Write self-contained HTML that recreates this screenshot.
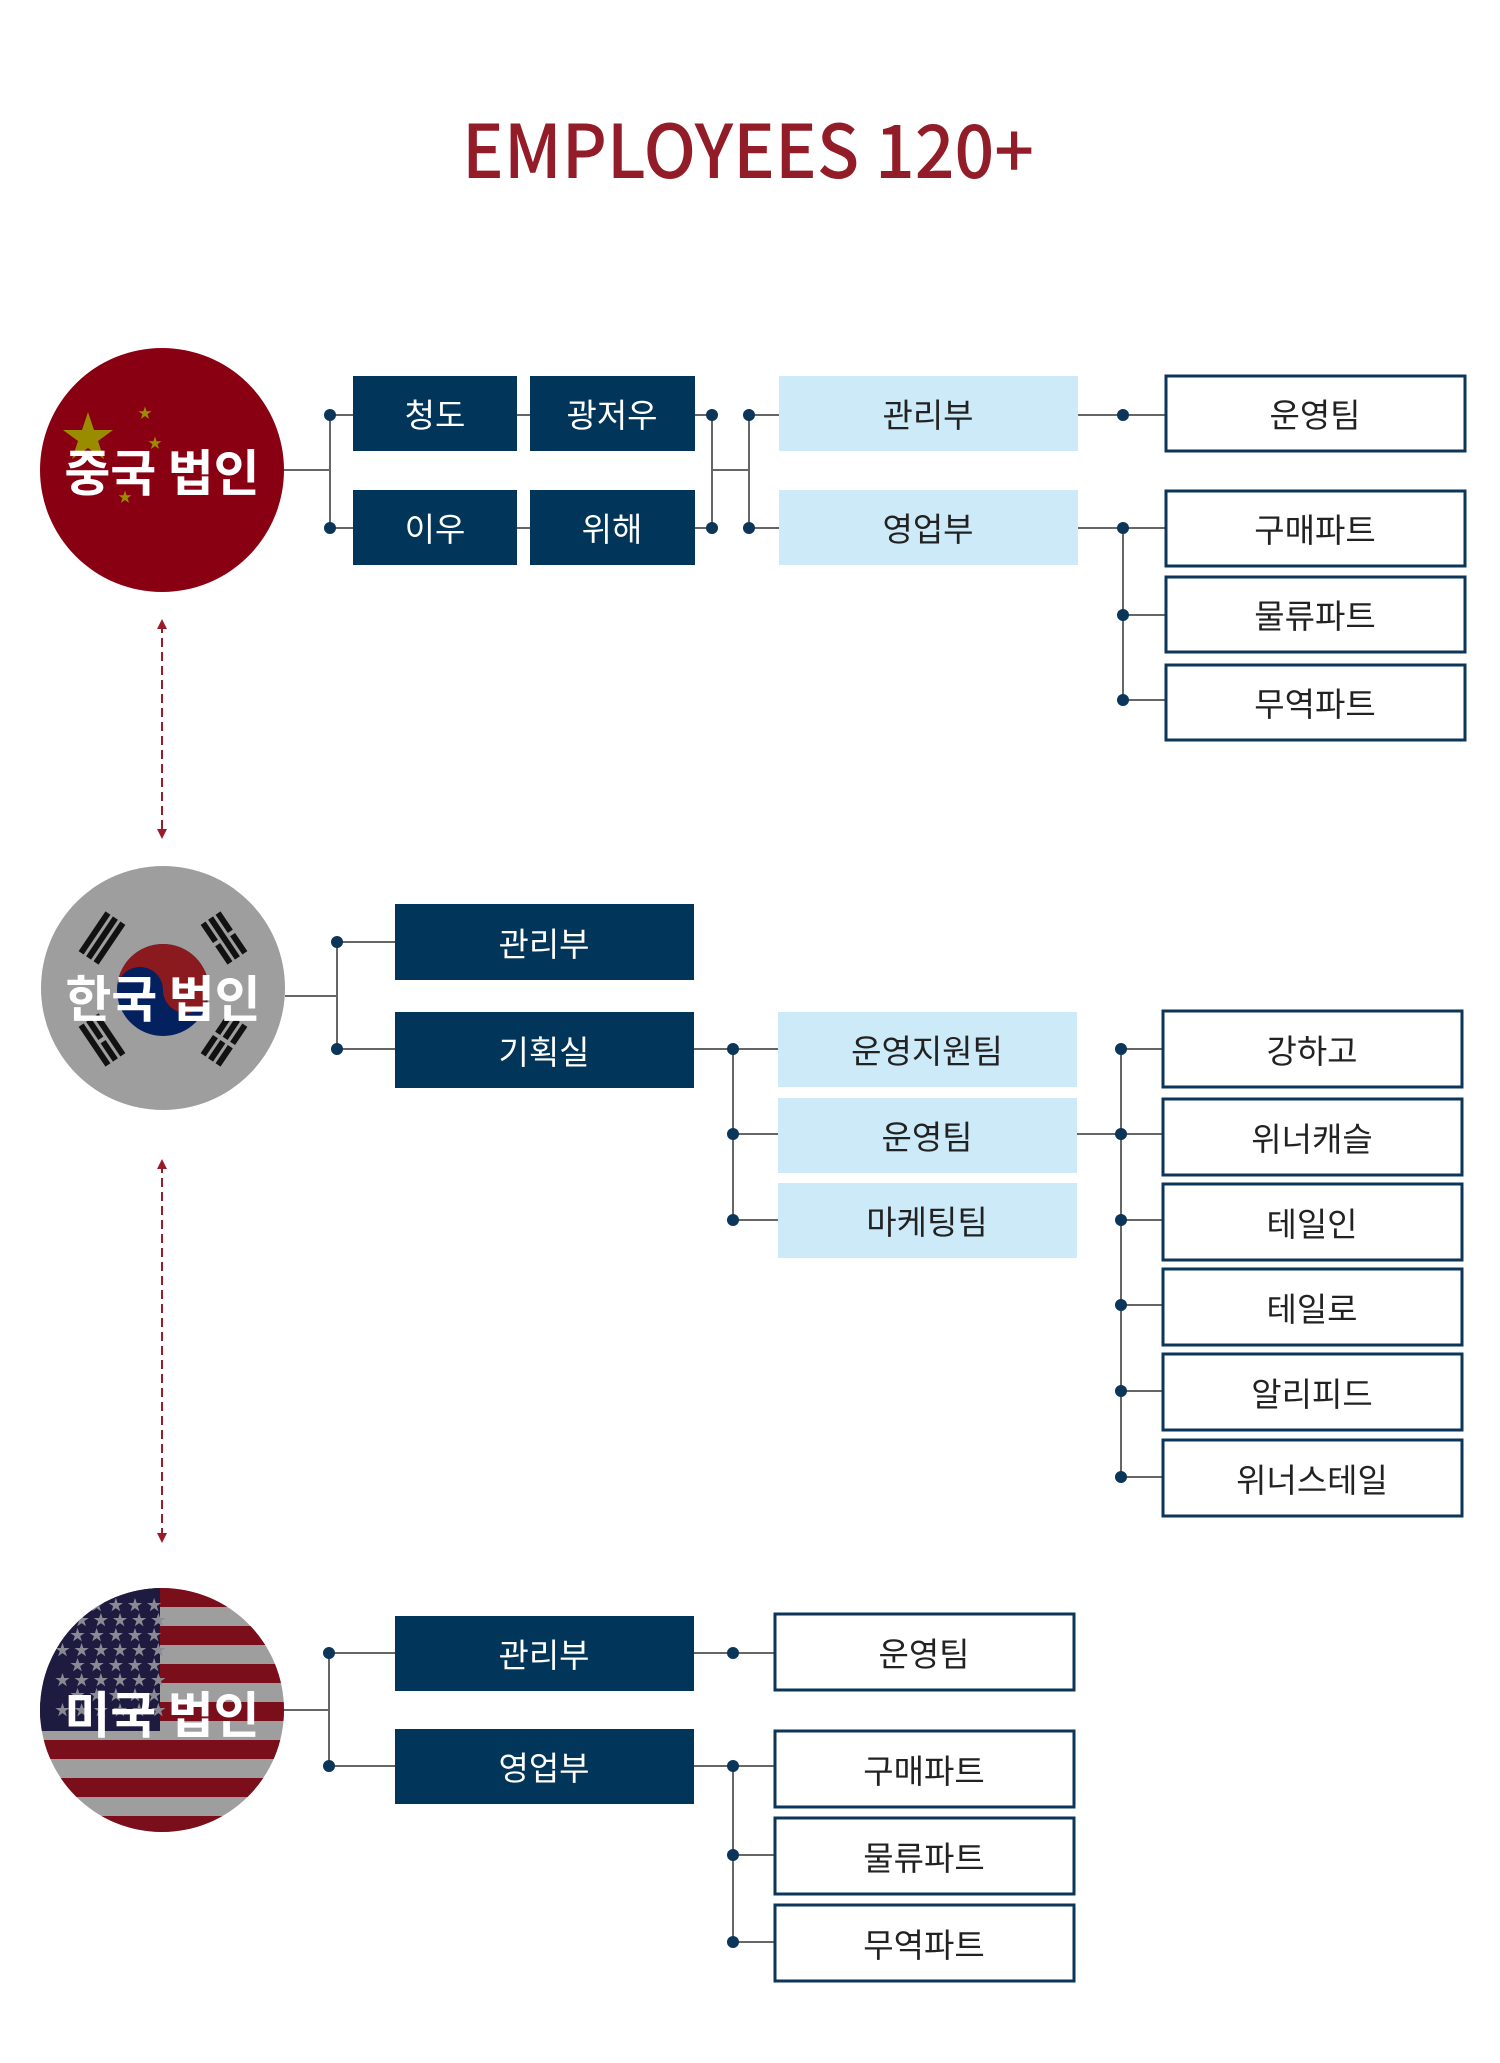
<!DOCTYPE html>
<html><head><meta charset="utf-8"><style>
html,body{margin:0;padding:0;background:#fff;}
svg{display:block;}
text{font-family:"Liberation Sans","Noto Sans CJK KR",sans-serif;}
.t{font-family:"Noto Sans CJK KR","Liberation Sans",sans-serif;font-size:33px;text-anchor:middle;dominant-baseline:central;}
.w{fill:#fff}.k{fill:#222}
.dk{fill:#02355a}.lt{fill:#cdeaf8}.ol{fill:#fff;stroke:#0b3559;stroke-width:3}
.ln{stroke:#666;stroke-width:2;fill:none}
.dot{fill:#0b3559}
.lab{font-family:"Noto Sans CJK KR",sans-serif;font-weight:bold;font-size:50px;fill:#fff;text-anchor:middle;dominant-baseline:central;}
</style></head><body>
<svg width="1500" height="2063" viewBox="0 0 1500 2063" xmlns="http://www.w3.org/2000/svg">
<defs>
<clipPath id="c3"><circle cx="162" cy="1710" r="122"/></clipPath>
<marker id="ar" viewBox="0 0 10 10" refX="5" refY="5" markerWidth="5" markerHeight="5" orient="auto-start-reverse"><path d="M0,0L10,5L0,10z" fill="#9b1b2a"/></marker>
</defs>
<text x="748" y="178" text-anchor="middle" textLength="572" lengthAdjust="spacingAndGlyphs" style="font-family:'Noto Sans CJK KR',sans-serif;font-size:74px;font-weight:500;fill:#921c27">EMPLOYEES 120+</text>

<!-- China -->
<circle cx="162" cy="470" r="122" fill="#8a0013"/>
<polygon points="88,412 94,430 113,430 98,441 104,459 88,448 72,459 78,441 63,430 82,430" fill="#9a8c00"/>
<text x="138" y="418" font-size="14" fill="#9a8c00">★</text>
<text x="148" y="448" font-size="14" fill="#9a8c00">★</text>
<text x="118" y="502" font-size="14" fill="#9a8c00">★</text>
<text class="lab" x="162" y="470">중국 법인</text>
<path class="ln" d="M284,470H330M330,415V528M330,415H353M330,528H353M517,415H530M517,528H530M695,415H712M695,528H712M712,415V528M712,470H749M749,415V528M749,415H779M749,528H779M1078,415H1166M1078,528H1166M1123,528V700M1123,615H1166M1123,700H1166"/>
<rect class="dk" x="353" y="376" width="164" height="75"/><text class="t w" x="435" y="413">청도</text>
<rect class="dk" x="530" y="376" width="165" height="75"/><text class="t w" x="612" y="413">광저우</text>
<rect class="dk" x="353" y="490" width="164" height="75"/><text class="t w" x="435" y="527">이우</text>
<rect class="dk" x="530" y="490" width="165" height="75"/><text class="t w" x="612" y="527">위해</text>
<rect class="lt" x="779" y="376" width="299" height="75"/><text class="t k" x="928" y="413">관리부</text>
<rect class="lt" x="779" y="490" width="299" height="75"/><text class="t k" x="928" y="527">영업부</text>
<rect class="ol" x="1166" y="376" width="299" height="75"/><text class="t k" x="1315" y="413">운영팀</text>
<rect class="ol" x="1166" y="491" width="299" height="75"/><text class="t k" x="1315" y="528">구매파트</text>
<rect class="ol" x="1166" y="577" width="299" height="75"/><text class="t k" x="1315" y="614">물류파트</text>
<rect class="ol" x="1166" y="665" width="299" height="75"/><text class="t k" x="1315" y="702">무역파트</text>
<g class="dot"><circle cx="330" cy="415" r="6"/><circle cx="330" cy="528" r="6"/><circle cx="712" cy="415" r="6"/><circle cx="712" cy="528" r="6"/><circle cx="749" cy="415" r="6"/><circle cx="749" cy="528" r="6"/><circle cx="1123" cy="415" r="6"/><circle cx="1123" cy="528" r="6"/><circle cx="1123" cy="615" r="6"/><circle cx="1123" cy="700" r="6"/></g>

<line x1="162" y1="624" x2="162" y2="834" stroke="#9b1b2a" stroke-width="2" stroke-dasharray="9,5" marker-start="url(#ar)" marker-end="url(#ar)"/>
<line x1="162" y1="1164" x2="162" y2="1538" stroke="#9b1b2a" stroke-width="2" stroke-dasharray="9,5" marker-start="url(#ar)" marker-end="url(#ar)"/>

<!-- Korea -->
<circle cx="163" cy="988" r="122" fill="#9e9e9e"/>
<circle cx="163" cy="990" r="46" fill="#03215e"/>
<path d="M117,990A46,46 0 0 1 209,990A23,23 0 0 1 163,990A23,23 0 0 0 117,990z" fill="#8b1a1f"/>
<g fill="#111">
<g transform="rotate(-56 102 938)"><rect x="78" y="926" width="48" height="6"/><rect x="78" y="935" width="48" height="6"/><rect x="78" y="944" width="48" height="6"/></g>
<g transform="rotate(56 224 938)"><rect x="200" y="926" width="22" height="6"/><rect x="226" y="926" width="22" height="6"/><rect x="200" y="935" width="48" height="6"/><rect x="200" y="944" width="22" height="6"/><rect x="226" y="944" width="22" height="6"/></g>
<g transform="rotate(56 102 1040)"><rect x="78" y="1028" width="48" height="6"/><rect x="78" y="1037" width="22" height="6"/><rect x="104" y="1037" width="22" height="6"/><rect x="78" y="1046" width="48" height="6"/></g>
<g transform="rotate(-56 224 1040)"><rect x="200" y="1028" width="22" height="6"/><rect x="226" y="1028" width="22" height="6"/><rect x="200" y="1037" width="22" height="6"/><rect x="226" y="1037" width="22" height="6"/><rect x="200" y="1046" width="22" height="6"/><rect x="226" y="1046" width="22" height="6"/></g>
</g>
<text class="lab" x="163" y="996">한국 법인</text>
<path class="ln" d="M285,996H337M337,942V1049M337,942H395M337,1049H395M694,1049H778M733,1049V1220M733,1134H778M733,1220H778M1077,1134H1162M1121,1049V1477M1121,1049H1162M1121,1220H1162M1121,1305H1162M1121,1391H1162M1121,1477H1162"/>
<rect class="dk" x="395" y="904" width="299" height="76"/><text class="t w" x="544" y="942">관리부</text>
<rect class="dk" x="395" y="1012" width="299" height="76"/><text class="t w" x="544" y="1050">기획실</text>
<rect class="lt" x="778" y="1012" width="299" height="75"/><text class="t k" x="927" y="1049">운영지원팀</text>
<rect class="lt" x="778" y="1098" width="299" height="75"/><text class="t k" x="927" y="1135">운영팀</text>
<rect class="lt" x="778" y="1183" width="299" height="75"/><text class="t k" x="927" y="1220">마케팅팀</text>
<rect class="ol" x="1163" y="1011" width="299" height="76"/><text class="t k" x="1312" y="1049">강하고</text>
<rect class="ol" x="1163" y="1099" width="299" height="76"/><text class="t k" x="1312" y="1137">위너캐슬</text>
<rect class="ol" x="1163" y="1184" width="299" height="76"/><text class="t k" x="1312" y="1222">테일인</text>
<rect class="ol" x="1163" y="1269" width="299" height="76"/><text class="t k" x="1312" y="1307">테일로</text>
<rect class="ol" x="1163" y="1354" width="299" height="76"/><text class="t k" x="1312" y="1392">알리피드</text>
<rect class="ol" x="1163" y="1440" width="299" height="76"/><text class="t k" x="1312" y="1478">위너스테일</text>
<g class="dot"><circle cx="337" cy="942" r="6"/><circle cx="337" cy="1049" r="6"/><circle cx="733" cy="1049" r="6"/><circle cx="733" cy="1134" r="6"/><circle cx="733" cy="1220" r="6"/><circle cx="1121" cy="1049" r="6"/><circle cx="1121" cy="1134" r="6"/><circle cx="1121" cy="1220" r="6"/><circle cx="1121" cy="1305" r="6"/><circle cx="1121" cy="1391" r="6"/><circle cx="1121" cy="1477" r="6"/></g>

<!-- USA -->
<g clip-path="url(#c3)">
<rect x="40" y="1588" width="250" height="250" fill="#9e9e9e"/>
<g fill="#7a0e1b">
<rect x="40" y="1588" width="250" height="19"/><rect x="40" y="1626" width="250" height="19"/><rect x="40" y="1664" width="250" height="19"/><rect x="40" y="1702" width="250" height="19"/><rect x="40" y="1740" width="250" height="19"/><rect x="40" y="1778" width="250" height="19"/><rect x="40" y="1816" width="250" height="19"/>
</g>
<rect x="40" y="1588" width="120" height="143" fill="#1e1b40"/>
<g fill="#8a8a95" font-size="15">
<text x="70" y="1610">★ ★ ★ ★ ★</text><text x="55" y="1625">★ ★ ★ ★ ★ ★</text><text x="70" y="1640">★ ★ ★ ★ ★</text><text x="55" y="1655">★ ★ ★ ★ ★ ★</text><text x="70" y="1670">★ ★ ★ ★ ★</text><text x="55" y="1685">★ ★ ★ ★ ★ ★</text><text x="70" y="1700">★ ★ ★ ★ ★</text><text x="55" y="1715">★ ★ ★ ★ ★ ★</text>
</g>
</g>
<text class="lab" x="162" y="1712">미국 법인</text>
<path class="ln" d="M284,1710H329M329,1653V1766M329,1653H395M329,1766H395M694,1653H775M694,1766H775M733,1766V1942M733,1855H775M733,1942H775"/>
<rect class="dk" x="395" y="1616" width="299" height="75"/><text class="t w" x="544" y="1653">관리부</text>
<rect class="dk" x="395" y="1729" width="299" height="75"/><text class="t w" x="544" y="1766">영업부</text>
<rect class="ol" x="775" y="1614" width="299" height="76"/><text class="t k" x="924" y="1652">운영팀</text>
<rect class="ol" x="775" y="1731" width="299" height="76"/><text class="t k" x="924" y="1769">구매파트</text>
<rect class="ol" x="775" y="1818" width="299" height="76"/><text class="t k" x="924" y="1856">물류파트</text>
<rect class="ol" x="775" y="1905" width="299" height="76"/><text class="t k" x="924" y="1943">무역파트</text>
<g class="dot"><circle cx="329" cy="1653" r="6"/><circle cx="329" cy="1766" r="6"/><circle cx="733" cy="1653" r="6"/><circle cx="733" cy="1766" r="6"/><circle cx="733" cy="1855" r="6"/><circle cx="733" cy="1942" r="6"/></g>
</svg>
</body></html>
